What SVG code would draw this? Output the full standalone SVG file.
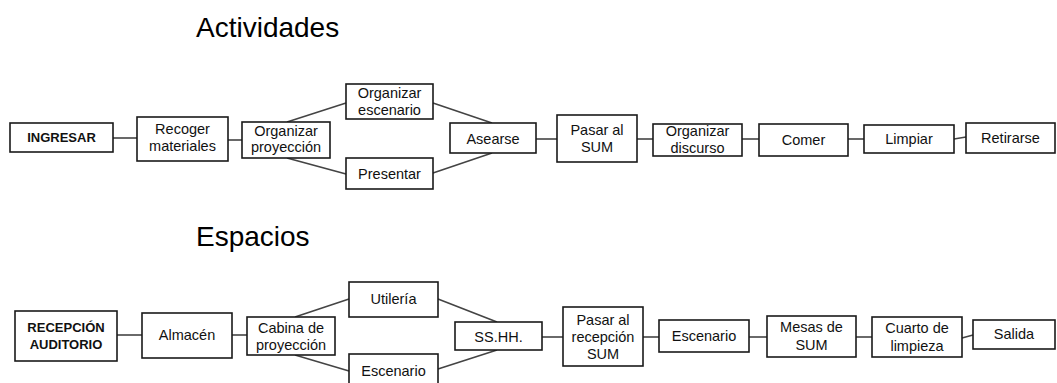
<svg xmlns="http://www.w3.org/2000/svg" width="1057" height="383" viewBox="0 0 1057 383">
<style>
.box{fill:#fff;stroke:#1a1a1a;stroke-width:1.6}
.t{font-family:"Liberation Sans",Arial,sans-serif;font-size:14.5px;fill:#111;text-anchor:middle}
.b{font-family:"Liberation Sans",Arial,sans-serif;font-size:13px;font-weight:bold;fill:#111;text-anchor:middle}
.title{font-family:"Liberation Sans",Arial,sans-serif;font-size:28px;fill:#000}
.c line{stroke:#444;stroke-width:1.6}
</style>
<rect width="1057" height="383" fill="#fff"/>
<text class="title" x="196" y="37">Actividades</text>
<text class="title" x="196" y="246">Espacios</text>
<g id="connectors" class="c">
<line x1="113" y1="138" x2="137" y2="138"/>
<line x1="228" y1="140" x2="242" y2="140"/>
<line x1="287" y1="122" x2="346" y2="103"/>
<line x1="287" y1="158" x2="346" y2="174"/>
<line x1="433" y1="103" x2="492" y2="123"/>
<line x1="433" y1="173" x2="492" y2="153"/>
<line x1="536" y1="139" x2="557" y2="139"/>
<line x1="637" y1="139" x2="653" y2="139"/>
<line x1="742" y1="139" x2="759" y2="139"/>
<line x1="848" y1="139" x2="864" y2="139"/>
<line x1="954" y1="139" x2="966" y2="137"/>
<line x1="117" y1="335" x2="142" y2="335"/>
<line x1="232" y1="335" x2="247" y2="335"/>
<line x1="295" y1="317" x2="349" y2="299"/>
<line x1="295" y1="355" x2="349" y2="371"/>
<line x1="438" y1="299" x2="497" y2="322"/>
<line x1="438" y1="369" x2="497" y2="350"/>
<line x1="542" y1="337" x2="563" y2="337"/>
<line x1="643" y1="337" x2="659" y2="337"/>
<line x1="749" y1="337" x2="767" y2="337"/>
<line x1="856" y1="337" x2="872" y2="337"/>
<line x1="962" y1="338" x2="973" y2="335"/>
</g>
<g id="n-ingresar"><rect class="box" x="10" y="123" width="103" height="29"/><text class="b" x="61.5" y="142">INGRESAR</text></g>
<g id="n-recoger"><rect class="box" x="137" y="117" width="91" height="44"/><text class="t" x="182.5" y="134">Recoger</text><text class="t" x="182.5" y="151">materiales</text></g>
<g id="n-orgproy"><rect class="box" x="242" y="122" width="88" height="36"/><text class="t" x="286" y="136">Organizar</text><text class="t" x="286" y="152">proyección</text></g>
<g id="n-orgesc"><rect class="box" x="346" y="84" width="87" height="35"/><text class="t" x="389.5" y="98">Organizar</text><text class="t" x="389.5" y="115">escenario</text></g>
<g id="n-presentar"><rect class="box" x="346" y="158" width="87" height="31"/><text class="t" x="389.5" y="178.5">Presentar</text></g>
<g id="n-asearse"><rect class="box" x="450" y="123" width="86" height="30"/><text class="t" x="493" y="143.5">Asearse</text></g>
<g id="n-pasar"><rect class="box" x="557" y="115" width="80" height="47"/><text class="t" x="597" y="135">Pasar al</text><text class="t" x="597" y="152">SUM</text></g>
<g id="n-orgdisc"><rect class="box" x="653" y="124" width="89" height="32"/><text class="t" x="697.5" y="136">Organizar</text><text class="t" x="697.5" y="153">discurso</text></g>
<g id="n-comer"><rect class="box" x="759" y="124" width="89" height="32"/><text class="t" x="803.5" y="145">Comer</text></g>
<g id="n-limpiar"><rect class="box" x="864" y="125" width="90" height="28"/><text class="t" x="909" y="144">Limpiar</text></g>
<g id="n-retirarse"><rect class="box" x="966" y="123" width="89" height="30"/><text class="t" x="1010.5" y="143">Retirarse</text></g>
<g id="s-recepcion"><rect class="box" x="15" y="311" width="102" height="50"/><text class="b" x="66" y="332">RECEPCIÓN</text><text class="b" x="66" y="349">AUDITORIO</text></g>
<g id="s-almacen"><rect class="box" x="142" y="313" width="90" height="45"/><text class="t" x="187" y="340">Almacén</text></g>
<g id="s-cabina"><rect class="box" x="247" y="317" width="88" height="38"/><text class="t" x="291" y="333">Cabina de</text><text class="t" x="291" y="350">proyección</text></g>
<g id="s-utileria"><rect class="box" x="349" y="282" width="89" height="35"/><text class="t" x="393.5" y="304">Utilería</text></g>
<g id="s-escenario1"><rect class="box" x="349" y="354" width="89" height="35"/><text class="t" x="393.5" y="376">Escenario</text></g>
<g id="s-sshh"><rect class="box" x="455" y="322" width="87" height="28"/><text class="t" x="498.5" y="341.5">SS.HH.</text></g>
<g id="s-pasar"><rect class="box" x="563" y="307" width="80" height="59"/><text class="t" x="603" y="325">Pasar al</text><text class="t" x="603" y="342">recepción</text><text class="t" x="603" y="359">SUM</text></g>
<g id="s-escenario2"><rect class="box" x="659" y="320" width="90" height="32"/><text class="t" x="704" y="341">Escenario</text></g>
<g id="s-mesas"><rect class="box" x="767" y="316" width="89" height="41"/><text class="t" x="811.5" y="332">Mesas de</text><text class="t" x="811.5" y="350">SUM</text></g>
<g id="s-cuarto"><rect class="box" x="872" y="317" width="90" height="40"/><text class="t" x="917" y="333">Cuarto de</text><text class="t" x="917" y="351">limpieza</text></g>
<g id="s-salida"><rect class="box" x="973" y="320" width="82" height="29"/><text class="t" x="1014" y="339">Salida</text></g>
</svg>
